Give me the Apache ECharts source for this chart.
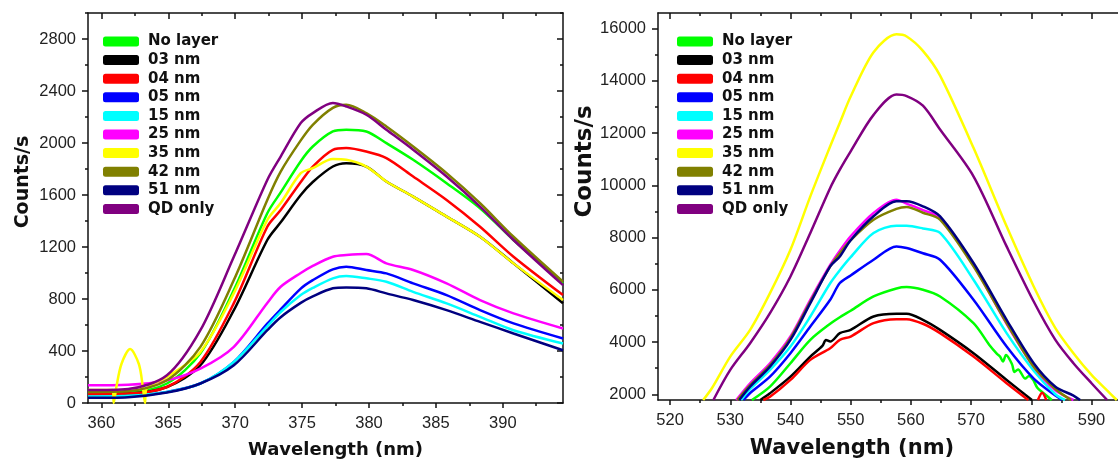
<!DOCTYPE html>
<html>
<head>
<meta charset="UTF-8">
<title>PL spectra</title>
<script src="https://cdn.jsdelivr.net/npm/echarts@6/dist/echarts.min.js"></script>
<style>
    html, body { margin: 0; padding: 0; background: #fff; }
    #chart { width: 1118px; height: 464px; }
</style>
</head>
<body>
<div id="chart"></div>
<script>
    var names = ['No layer', '03 nm', '04 nm', '05 nm', '15 nm', '25 nm', '35 nm', '42 nm', '51 nm', 'QD only'];
    var colors = ['#00ff00', '#000000', '#ff0000', '#0000ff', '#00ffff', '#ff00ff', '#ffff00', '#808000', '#000080', '#800080'];

    // ---- left panel (UV band) ----
    var lWl = [359, 362, 364.9, 367.4, 369.9, 372.4, 373.4, 374.9, 375.8, 377.3, 378.3, 379.8, 381.3, 383.3, 385.8, 388.3, 390.8, 394.5];
    var lNoLayer = [78, 82, 150, 382, 869, 1460, 1620, 1860, 1973, 2089, 2102, 2089, 1999, 1871, 1691, 1498, 1254, 920];
    var l03 = [68, 72, 123, 290, 714, 1254, 1390, 1600, 1700, 1819, 1845, 1819, 1704, 1588, 1434, 1279, 1074, 768];
    var l04 = [70, 73, 123, 316, 768, 1356, 1484, 1700, 1819, 1948, 1961, 1934, 1884, 1742, 1562, 1356, 1125, 830];
    var l05 = [45, 50, 85, 150, 316, 610, 720, 880, 945, 1028, 1048, 1023, 997, 920, 830, 714, 612, 496];
    var l15 = [50, 55, 85, 150, 316, 590, 700, 830, 885, 959, 977, 959, 933, 855, 766, 663, 560, 458];
    var l25 = [136, 140, 175, 265, 432, 770, 894, 1000, 1055, 1125, 1138, 1146, 1074, 1023, 920, 791, 689, 573];
    var l35 = [100, null, 200, 393, 845, 1408, 1538, 1768, 1806, 1876, 1871, 1819, 1704, 1588, 1434, 1279, 1074, 792];
    var l42 = [85, 92, 175, 432, 946, 1562, 1780, 2020, 2140, 2270, 2294, 2230, 2127, 1973, 1768, 1537, 1279, 933];
    var l51 = [40, 45, 80, 150, 290, 560, 660, 770, 820, 882, 889, 882, 843, 792, 714, 624, 535, 406];
    var lQD = [100, 108, 213, 560, 1125, 1716, 1896, 2153, 2230, 2308, 2281, 2217, 2102, 1948, 1742, 1511, 1254, 907];
    // the little spike of the 35 nm trace near 362 nm
    var l35SpikeWl = [360.85, 360.92, 361.12, 361.5, 362.15, 362.8, 363.1, 363.26, 363.35];
    var l35SpikeVal = [100, 0, 123, 300, 415, 300, 123, 0, 105];

    var lXTicks = [360, 365, 370, 375, 380, 385, 390];
    var lXMinor = [362.5, 367.5, 372.5, 377.5, 382.5, 387.5, 392.5];
    var lYTicks = [0, 400, 800, 1200, 1600, 2000, 2400, 2800];
    var lYMinor = [200, 600, 1000, 1400, 1800, 2200, 2600, 3000];

    // ---- right panel (visible band) ----
    var rWl = [527, 530, 533.3, 536.6, 540, 543.3, 546.6, 548.2, 550, 553.8, 557.6, 559.3, 562, 564.85, 570.4, 575.9, 580.4, 584, 587, 590, 592.5];
    var rNoLayer = [null, null, null, 2291, 3189, 4083, 4700, 4950, 5200, 5744, 6050, 6104, 6000, 5744, 4723, null, null, null, null, null, null];
    var r03 = [null, null, null, 2038, 2675, 3443, 4018, 4340, 4466, 4977, 5080, 5080, 4850, 4466, 3573, 2549, null, null, null, null, null];
    var r04 = [null, null, null, 1900, 2549, 3316, 3764, 4083, 4210, 4723, 4877, 4877, 4700, 4340, 3443, 2422, null, null, null, null, null];
    var r05 = [null, null, 2050, 2675, 3573, 4594, 5617, 6258, 6550, 7152, 7662, 7600, 7400, 7152, 5617, 3826, 2600, 1950, null, null, null];
    var r15 = [null, null, 2200, 2932, 3826, 4977, 6250, 6750, 7250, 8176, 8456, 8456, 8350, 8176, 6384, 4340, 2900, 2000, null, null, null];
    var r25 = [null, null, 2420, 3189, 4210, 5617, 6950, 7500, 8050, 8943, 9453, 9300, 9050, 8750, 6950, 4700, 3050, 2150, null, null, null];
    var r35 = [2250, 3443, 4466, 5874, 7535, 9578, 11498, 12400, 13400, 15100, 15782, 15700, 15150, 14200, 11436, 8430, 6128, 4532, 3573, 2740, 2165];
    var r42 = [null, null, 2350, 3120, 4150, 5550, 6895, 7400, 7900, 8686, 9100, 9173, 8950, 8686, 6895, 4723, 3050, 2200, null, null, null];
    var r51 = [null, null, 2291, 3060, 4082, 5490, 6895, 7278, 7900, 8816, 9390, 9390, 9198, 8812, 7025, 4850, 3189, 2291, 1950, null, null];
    var rQD = [null, 2932, 3956, 5107, 6511, 8176, 9900, 10600, 11300, 12700, 13477, 13420, 13050, 12138, 10347, 7662, 5552, 4083, 3189, 2422, null];
    // where each trace leaves / enters the bottom of the frame
    var rStart = [533.6, 535.0, 535.5, 532.2, 531.8, 531.0, 525.5, 531.2, 531.5, 527.2];
    var rEnd = [583.4, 580.1, 579.5, 585.1, 585.6, 587.0, 594.2, 586.6, 588.1, 592.6];
    var rGreenTailWl = [573, 574.3, 574.8, 575.3, 575.8, 576.8, 577.2, 577.8, 579, 579.6, 580.3, 581, 582];
    var rGreenTailVal = [3900, 3550, 3450, 3250, 3500, 3150, 2850, 2950, 2600, 2700, 2550, 2250, 2050];
    var rBlackBumpWl = [545.3, 545.9];
    var rBlackBumpVal = [3850, 4080];
    var rRedSpikeWl = [581.1, 581.8, 582.5];
    var rRedSpikeVal = [1780, 2060, 1780];

    var rXTicks = [520, 530, 540, 550, 560, 570, 580, 590];
    var rXMinor = [525, 535, 545, 555, 565, 575, 585];
    var rYTicks = [2000, 4000, 6000, 8000, 10000, 12000, 14000, 16000];
    var rYMinor = [3000, 5000, 7000, 9000, 11000, 13000, 15000];
    var rYMin = 1780;

    function pairs(wl, vals) {
        var out = [];
        for (var i = 0; i < wl.length; i++) {
            if (vals[i] != null) out.push([wl[i], vals[i]]);
        }
        return out;
    }
    function byX(a, b) { return a[0] - b[0]; }

    var lVals = [lNoLayer, l03, l04, l05, l15, l25, l35, l42, l51, lQD];
    var rVals = [rNoLayer, r03, r04, r05, r15, r25, r35, r42, r51, rQD];

    function leftData(i) {
        var d = pairs(lWl, lVals[i]);
        if (i === 6) d = d.concat(pairs(l35SpikeWl, l35SpikeVal)).sort(byX);
        return d;
    }
    function rightData(i) {
        var d = pairs(rWl, rVals[i]);
        d.push([rStart[i], rYMin]);
        d.push([rEnd[i], rYMin]);
        if (i === 0) d = d.concat(pairs(rGreenTailWl, rGreenTailVal));
        if (i === 1) d = d.concat(pairs(rBlackBumpWl, rBlackBumpVal));
        d.sort(byX);
        if (i === 2) {
            d.push([580.3, '-']);   // gap before the small spike
            d = d.concat(pairs(rRedSpikeWl, rRedSpikeVal));
        }
        return d;
    }

    var ink = '#111';
    var labelFont = { color: '#222', fontSize: 16.5, fontFamily: 'Liberation Sans, Arial, sans-serif' };
    var titleFont = { color: ink, fontWeight: 'bold', fontFamily: 'DejaVu Sans, sans-serif' };

    function axis(o) {
        var a = {
            type: 'value', gridIndex: o.grid, position: o.pos, min: o.min, max: o.max,
            splitLine: { show: false },
            axisLine: { show: !!o.line, onZero: false, lineStyle: { color: ink, width: 1.5 } },
            axisTick: { show: true, inside: !!o.inside, length: o.len, customValues: o.ticks, lineStyle: { color: ink, width: 1.5 } },
            axisLabel: { show: false }
        };
        if (o.labels) {
            a.axisLabel = Object.assign({ show: true, customValues: o.ticks, margin: 12, formatter: function (v) { return String(v); } }, labelFont);
        }
        if (o.name) {
            a.name = o.name;
            a.nameLocation = 'middle';
            a.nameGap = o.gap;
            a.nameTextStyle = Object.assign({ fontSize: o.size, padding: o.pad }, titleFont);
        }
        return a;
    }

    var xAxes = [
        axis({ grid: 0, pos: 'bottom', min: 359, max: 394.5, line: true, len: 5, ticks: lXTicks, labels: true, name: 'Wavelength (nm)', gap: 38, size: 18, pad: [0, 0, 0, 20] }),
        axis({ grid: 0, pos: 'bottom', min: 359, max: 394.5, len: 3, ticks: lXMinor }),
        axis({ grid: 0, pos: 'top', min: 359, max: 394.5, line: true, inside: true, len: 6, ticks: lXTicks }),
        axis({ grid: 0, pos: 'top', min: 359, max: 394.5, inside: true, len: 3, ticks: lXMinor }),
        axis({ grid: 1, pos: 'bottom', min: 518, max: 594.4, line: true, len: 5, ticks: rXTicks, labels: true, name: 'Wavelength (nm)', gap: 38, size: 21, pad: [0, 72, 0, 0] }),
        axis({ grid: 1, pos: 'bottom', min: 518, max: 594.4, len: 3, ticks: rXMinor }),
        axis({ grid: 1, pos: 'top', min: 518, max: 594.4, line: true, inside: true, len: 6, ticks: rXTicks }),
        axis({ grid: 1, pos: 'top', min: 518, max: 594.4, inside: true, len: 3, ticks: rXMinor })
    ];
    var yAxes = [
        axis({ grid: 0, pos: 'left', min: 0, max: 3000, line: true, len: 6, ticks: lYTicks, labels: true, name: 'Counts/s', gap: 55, size: 19, pad: [0, 0, 0, 52] }),
        axis({ grid: 0, pos: 'left', min: 0, max: 3000, len: 3, ticks: lYMinor }),
        axis({ grid: 0, pos: 'right', min: 0, max: 3000, line: true, inside: true, len: 6, ticks: lYTicks }),
        axis({ grid: 0, pos: 'right', min: 0, max: 3000, inside: true, len: 3, ticks: lYMinor }),
        axis({ grid: 1, pos: 'left', min: rYMin, max: 16600, line: true, len: 6, ticks: rYTicks, labels: true, name: 'Counts/s', gap: 58, size: 23, pad: [0, 0, 0, 90] }),
        axis({ grid: 1, pos: 'left', min: rYMin, max: 16600, len: 3, ticks: rYMinor })
    ];

    var series = [];
    names.forEach(function (n, i) {
        series.push({ name: n, type: 'line', xAxisIndex: 0, yAxisIndex: 0, data: leftData(i), showSymbol: false, symbol: 'none', smooth: 0.3, color: colors[i], lineStyle: { width: 2.5, color: colors[i] } });
    });
    names.forEach(function (n, i) {
        series.push({ name: n, type: 'line', xAxisIndex: 4, yAxisIndex: 4, data: rightData(i), showSymbol: false, symbol: 'none', smooth: 0.3, color: colors[i], lineStyle: { width: 2.5, color: colors[i] } });
    });

    function legend(left) {
        return {
            left: left, top: 29, orient: 'vertical', data: names, selectedMode: false,
            icon: 'roundRect', itemWidth: 36, itemHeight: 10, itemGap: 3.6,
            textStyle: { color: ink, fontSize: 15, lineHeight: 15, fontWeight: 'bold', fontFamily: 'DejaVu Sans, sans-serif', padding: [0, 0, 0, 4] }
        };
    }

    var myChart = echarts.init(document.getElementById('chart'));
    myChart.setOption({
        animation: false,
        backgroundColor: '#fff',
        grid: [
            { left: 88, top: 13, width: 475, height: 390 },
            { left: 658, top: 13, width: 460, height: 387 }
        ],
        legend: [legend(98), legend(672)],
        xAxis: xAxes,
        yAxis: yAxes,
        series: series
    });
</script>
</body>
</html>
